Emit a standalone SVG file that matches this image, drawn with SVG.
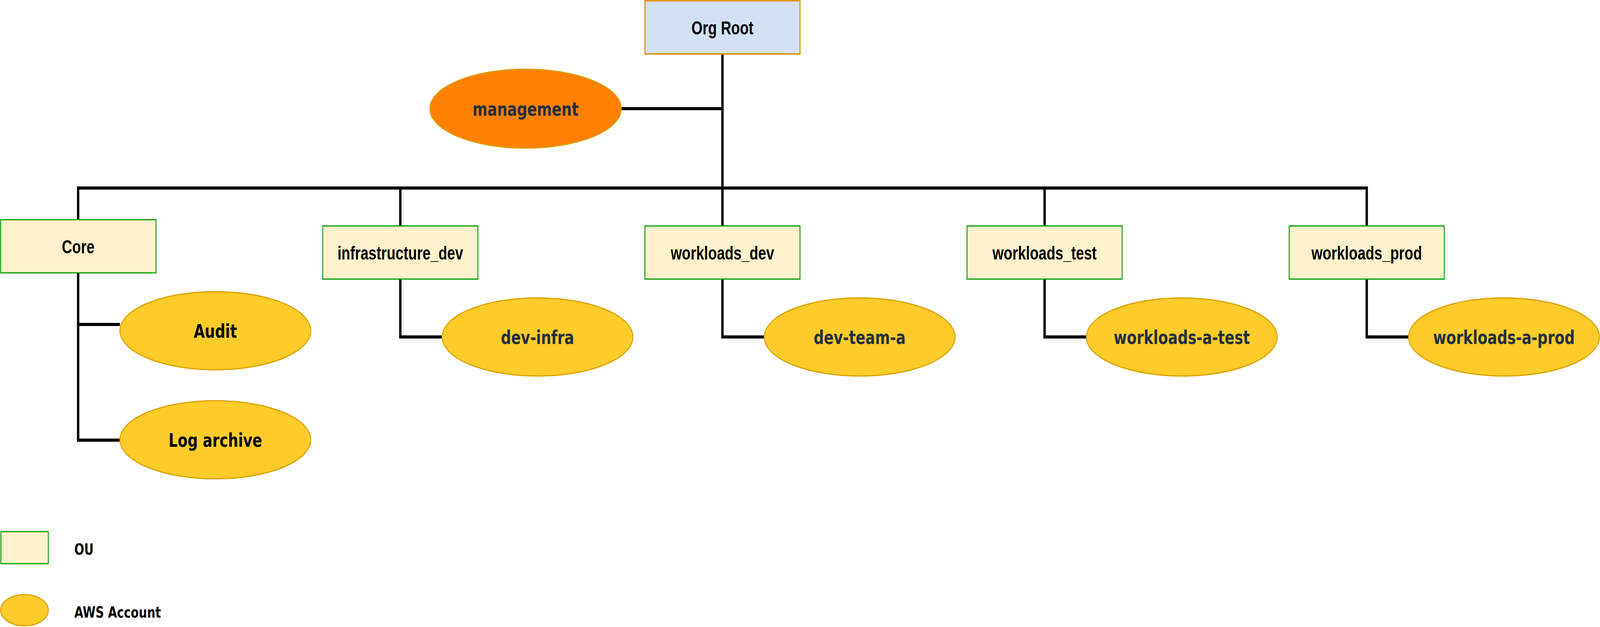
<svg xmlns="http://www.w3.org/2000/svg" width="5364" height="1604" viewBox="0 0 5364 1604" preserveAspectRatio="none" style="width:100vw;height:100vh;display:block">
<style>
.ou{fill:#fff2cc;stroke:#009900;stroke-width:3}
.root{fill:#d4e1f5;stroke:#e38b00;stroke-width:3.5}
.acc{fill:#fdcb2a;stroke:#d9a000;stroke-width:3}
.mgmt{fill:#ff8000;stroke:#d9a000;stroke-width:3}
.ouT{font-family:"Liberation Sans",Arial,sans-serif;font-weight:bold;font-size:48px;fill:#000;text-anchor:middle}
.accT{font-family:"DejaVu Sans",Verdana,sans-serif;font-weight:bold;font-size:48px;fill:#232f3e;text-anchor:middle}
.accK{font-family:"DejaVu Sans",Verdana,sans-serif;font-weight:bold;font-size:48px;fill:#000;text-anchor:middle}
.legT{font-family:"DejaVu Sans",Verdana,sans-serif;font-weight:bold;font-size:39px;fill:#000}
.conn{fill:none;stroke:#000;stroke-width:8}
</style>
<rect width="5364" height="1604" fill="#fff"/>
<g id="connectors">
<path class="conn" d="M2422 138 V578"/>
<path class="conn" d="M2083 278 H2422"/>
<path class="conn" d="M262 562 V481 H4582 V578"/>
<path class="conn" d="M1342 481 V578"/>
<path class="conn" d="M3502 481 V578"/>
<path class="conn" d="M262 698 V1126 H402"/>
<path class="conn" d="M262 830 H402"/>
<path class="conn" d="M1342 714 V862 H1482"/>
<path class="conn" d="M2422 714 V862 H2562"/>
<path class="conn" d="M3502 714 V862 H3642"/>
<path class="conn" d="M4582 714 V862 H4722"/>
</g>
<g id="org-root"><rect class="root" x="2162" y="2" width="520" height="136"/><text class="ouT" x="2422" y="88">Org Root</text></g>
<g id="management"><ellipse class="mgmt" cx="1762" cy="278" rx="321" ry="101"/><text class="accT" x="1762" y="296">management</text></g>
<g id="core"><rect class="ou" x="2" y="562" width="521" height="136"/><text class="ouT" x="262" y="648">Core</text></g>
<g id="infrastructure_dev"><rect class="ou" x="1082" y="578" width="520" height="136"/><text class="ouT" x="1342" y="664">infrastructure_dev</text></g>
<g id="workloads_dev"><rect class="ou" x="2162" y="578" width="520" height="136"/><text class="ouT" x="2422" y="664">workloads_dev</text></g>
<g id="workloads_test"><rect class="ou" x="3242" y="578" width="520" height="136"/><text class="ouT" x="3502" y="664">workloads_test</text></g>
<g id="workloads_prod"><rect class="ou" x="4322" y="578" width="520" height="136"/><text class="ouT" x="4582" y="664">workloads_prod</text></g>
<g id="audit"><ellipse class="acc" cx="722" cy="846" rx="320" ry="100"/><text class="accK" x="722" y="864">Audit</text></g>
<g id="log-archive"><ellipse class="acc" cx="722" cy="1125" rx="320" ry="100"/><text class="accK" x="722" y="1143">Log archive</text></g>
<g id="dev-infra"><ellipse class="acc" cx="1802" cy="862" rx="320" ry="100"/><text class="accT" x="1802" y="880">dev-infra</text></g>
<g id="dev-team-a"><ellipse class="acc" cx="2882" cy="862" rx="320" ry="100"/><text class="accT" x="2882" y="880">dev-team-a</text></g>
<g id="workloads-a-test"><ellipse class="acc" cx="3962" cy="862" rx="320" ry="100"/><text class="accT" x="3962" y="880">workloads-a-test</text></g>
<g id="workloads-a-prod"><ellipse class="acc" cx="5042" cy="862" rx="320" ry="100"/><text class="accT" x="5042" y="880">workloads-a-prod</text></g>
<g id="legend-ou"><rect class="ou" x="3" y="1360" width="159" height="82"/><text class="legT" x="249" y="1419">OU</text></g>
<g id="legend-account"><ellipse class="acc" cx="82" cy="1561" rx="80" ry="40"/><text class="legT" x="249" y="1580">AWS Account</text></g>
</svg>
